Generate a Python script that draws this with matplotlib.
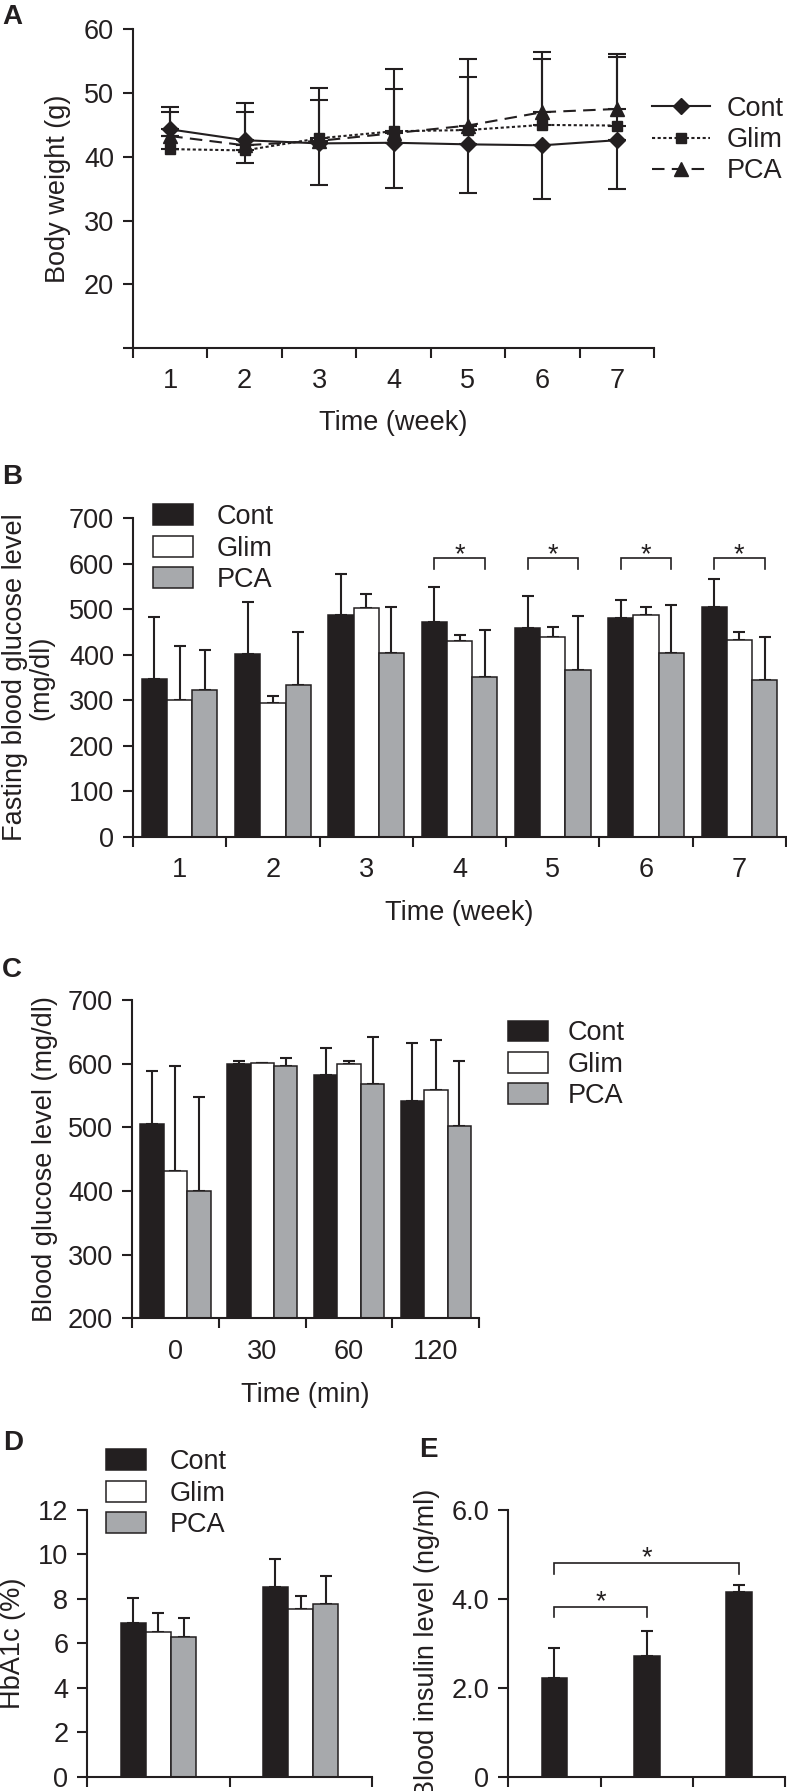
import numpy as np
import matplotlib
matplotlib.use("Agg")
import matplotlib.pyplot as plt
from matplotlib.patches import Patch
from matplotlib.lines import Line2D

plt.rcParams['font.family'] = ['Liberation Sans', 'DejaVu Sans']

# ---------------- data ----------------
groups = ['Cont', 'Glim', 'PCA']
weeks = ['1', '2', '3', '4', '5', '6', '7']
ogtt_times = ['0', '30', '60', '120']

# A: body weight (g)
bw_cont = [44.3, 42.6, 42.1, 42.2, 41.95, 41.8, 42.6]
bw_cont_lower = [43.3, 39.05, 35.5, 35.1, 34.25, 33.35, 34.9]
bw_glim = [41.2, 41.0, 42.9, 44.0, 44.2, 45.0, 44.9]
bw_glim_upper = [47.75, 48.4, 50.8, 50.6, 52.5, 55.3, 55.7]
bw_pca = [43.25, 41.8, 42.5, 43.7, 44.9, 47.0, 47.5]
bw_pca_upper = [47.06, 47.0, 48.85, 53.7, 55.3, 56.5, 56.1]

# B: fasting blood glucose (mg/dl)
fbg_cont = [346, 401, 487, 471, 459, 480, 504]
fbg_cont_err = [136, 114, 90, 79, 70, 40, 62]
fbg_glim = [300, 295, 502, 431, 438, 487, 432]
fbg_glim_err = [120, 14, 32, 12.5, 24, 17, 17]
fbg_pca = [322, 333, 404, 351, 366, 403, 344]
fbg_pca_err = [88, 116, 102, 104, 119, 106, 96]
fbg_sig_weeks = [4, 5, 6, 7]

# C: blood glucose (mg/dl) in OGTT
ogtt_cont = [505, 600, 582, 542]
ogtt_cont_err = [84, 4, 43, 91]
ogtt_glim = [432, 601, 600, 558]
ogtt_glim_err = [164, 0, 4, 79]
ogtt_pca = [400, 597, 568, 502]
ogtt_pca_err = [148, 12, 74, 102]

# D: HbA1c (%)
hba1c_cont = [6.93, 8.55]
hba1c_cont_err = [1.10, 1.23]
hba1c_glim = [6.50, 7.55]
hba1c_glim_err = [0.85, 0.58]
hba1c_pca = [6.30, 7.76]
hba1c_pca_err = [0.83, 1.29]

# E: blood insulin (ng/ml)
insulin = [2.21, 2.72, 4.16]
insulin_err = [0.69, 0.565, 0.15]

# ---------------- style ----------------
W, H = 787, 1791
FS = 19.5
FSPX = FS / 72 * 100
DARK = '#231f20'
GRAY = '#a7a9ac'
bar_colors = [DARK, 'white', GRAY]

fig = plt.figure(figsize=(W / 100, H / 100), dpi=100)
fig.patch.set_facecolor('white')


def px_axes(l, t, r, b):
    return fig.add_axes([l / W, 1 - b / H, (r - l) / W, (b - t) / H])


def style_axes(ax, ncat, labels):
    for s in ['top', 'right']:
        ax.spines[s].set_visible(False)
    for s in ['left', 'bottom']:
        ax.spines[s].set_linewidth(1.5)
        ax.spines[s].set_color(DARK)
    ax.set_xlim(0.5, ncat + 0.5)
    ax.set_xticks(np.arange(0.5, ncat + 0.51, 1.0))
    ax.set_xticklabels([])
    ax.set_xticks(np.arange(1, ncat + 1), minor=True)
    if labels is not None:
        ax.set_xticklabels(labels, minor=True)
    ax.tick_params(axis='both', which='major', length=7.2, width=1.5,
                   color=DARK, direction='out', labelsize=FS, pad=6.5,
                   labelcolor=DARK)
    ax.tick_params(axis='x', which='minor', length=0, labelsize=FS,
                   pad=14.6, labelcolor=DARK)


def set_labels(ax, ylab, yx, xlab=None, xy=None, linespacing=1.0):
    ax.set_ylabel(ylab, fontsize=FS, color=DARK, va='center', ha='center',
                  linespacing=linespacing)
    ax.yaxis.set_label_coords(yx, 0.5)
    if xlab is not None:
        ax.set_xlabel(xlab, fontsize=FS, color=DARK, va='center')
        ax.xaxis.set_label_coords(0.5, xy)


def bar_legend(x_px, yc_px, textx_px):
    handles = [Patch(facecolor=c, edgecolor=DARK, linewidth=1.1) for c in bar_colors]
    fig.legend(handles, groups, loc='center left',
               bbox_to_anchor=(x_px / W, 1 - yc_px / H),
               bbox_transform=fig.transFigure, frameon=False, borderpad=0,
               borderaxespad=0, handlelength=40 / FSPX, handleheight=22 / FSPX,
               handletextpad=(textx_px - x_px - 40) / FSPX, labelspacing=0.2,
               fontsize=FS, labelcolor=DARK)


def grouped_bars(ax, series, errs, width):
    n = len(series[0])
    x = np.arange(1, n + 1)
    for k, (vals, err, c) in enumerate(zip(series, errs, bar_colors)):
        pos = x + (k - 1) * width
        ax.bar(pos, vals, width=width, color=c, edgecolor=DARK, linewidth=1.1,
               zorder=2)
        ax.errorbar(pos, vals, yerr=[np.zeros(n), err], fmt='none', ecolor=DARK,
                    elinewidth=1.5, capsize=4.5, capthick=1.5, zorder=1.5)


def star(ax, x, y):
    ax.annotate('*', xy=(x, y), xytext=(0, -11), textcoords='offset points',
                ha='center', va='baseline', fontsize=FS, color=DARK)


def bracket(ax, x0, x1, ytop, ybot):
    ax.plot([x0, x0, x1, x1], [ybot, ytop, ytop, ybot], color=DARK, lw=1.2,
            solid_joinstyle='miter', clip_on=False)


# ---------------- A ----------------
axA = px_axes(133, 29.3, 654, 348)
style_axes(axA, 7, weeks)
x = np.arange(1, 8)
zeros = np.zeros(7)
cont = np.array(bw_cont)
glim = np.array(bw_glim)
pca = np.array(bw_pca)
ekw = dict(ecolor=DARK, elinewidth=1.5, capsize=6.5, capthick=1.5)
axA.errorbar(x, pca, yerr=[zeros, np.array(bw_pca_upper) - pca], color=DARK,
             marker='^', markersize=10, lw=1.5, dashes=(6, 3.5), zorder=3, **ekw)
axA.errorbar(x, glim, yerr=[zeros, np.array(bw_glim_upper) - glim], color=DARK,
             marker='s', markersize=7.5, lw=1.5, dashes=(1.5, 1.2), zorder=3, **ekw)
axA.errorbar(x, cont, yerr=[cont - np.array(bw_cont_lower), zeros], color=DARK,
             marker='D', markersize=8.5, lw=1.5, ls='-', zorder=4, **ekw)
axA.set_ylim(10, 60)
axA.set_yticks([10, 20, 30, 40, 50, 60])
axA.set_yticklabels(['', '20', '30', '40', '50', '60'])
set_labels(axA, 'Body weight (g)', (58 - 133) / 521, 'Time (week)',
           -(423 - 348) / 318.7)
lh = [Line2D([], [], color=DARK, marker='D', markersize=8.5, lw=1.5, ls='-'),
      Line2D([], [], color=DARK, marker='s', markersize=7.5, lw=1.5, dashes=(1.5, 1.2)),
      Line2D([], [], color=DARK, marker='^', markersize=10, lw=1.5, dashes=(6, 3.5))]
fig.legend(lh, groups, loc='center left', bbox_to_anchor=(652 / W, 1 - 140 / H),
           bbox_transform=fig.transFigure, frameon=False, borderpad=0,
           borderaxespad=0, handlelength=58 / FSPX, handletextpad=17 / FSPX,
           labelspacing=0.2, fontsize=FS, labelcolor=DARK)

# ---------------- B ----------------
axB = px_axes(133, 518.3, 786, 836.7)
style_axes(axB, 7, weeks)
grouped_bars(axB, [fbg_cont, fbg_glim, fbg_pca],
             [fbg_cont_err, fbg_glim_err, fbg_pca_err], 0.27)
axB.set_ylim(0, 700)
axB.set_yticks(np.arange(0, 701, 100))
set_labels(axB, 'Fasting blood glucose level\n(mg/dl)', (28.5 - 133) / 653,
           'Time (week)', -(913 - 836.7) / 318.4)
for w in fbg_sig_weeks:
    bracket(axB, w - 0.27, w + 0.27, 612, 588)
    star(axB, w, 637.7)
bar_legend(152.7, 548.5, 216.7)

# ---------------- C ----------------
axC = px_axes(132, 1000, 479.3, 1318.3)
style_axes(axC, 4, ogtt_times)
grouped_bars(axC, [ogtt_cont, ogtt_glim, ogtt_pca],
             [ogtt_cont_err, ogtt_glim_err, ogtt_pca_err], 0.27)
axC.set_ylim(200, 700)
axC.set_yticks(np.arange(200, 701, 100))
set_labels(axC, 'Blood glucose level (mg/dl)', (45 - 132) / 347.3,
           'Time (min)', -(1395 - 1318.3) / 318.3)
bar_legend(508.3, 1064.8, 567.7)

# ---------------- D ----------------
axD = px_axes(87.3, 1510, 371.7, 1776.7)
style_axes(axD, 2, None)
grouped_bars(axD, [hba1c_cont, hba1c_glim, hba1c_pca],
             [hba1c_cont_err, hba1c_glim_err, hba1c_pca_err], 0.177)
axD.set_ylim(0, 12)
axD.set_yticks(np.arange(0, 13, 2))
set_labels(axD, 'HbA1c (%)', (13 - 87.3) / 284.4)
bar_legend(106, 1493.7, 170)

# ---------------- E ----------------
axE = px_axes(508.3, 1510, 785, 1776.7)
style_axes(axE, 3, None)
xe = np.arange(1, 4)
axE.bar(xe, insulin, width=0.28, color=DARK, edgecolor=DARK, linewidth=1.1, zorder=2)
axE.errorbar(xe, insulin, yerr=[np.zeros(3), insulin_err], fmt='none', ecolor=DARK,
             elinewidth=1.5, capsize=4.5, capthick=1.5, zorder=1.5)
axE.set_ylim(0, 6)
axE.set_yticks([0, 2, 4, 6])
axE.set_yticklabels(['0', '2.0', '4.0', '6.0'])
set_labels(axE, 'Blood insulin level (ng/ml)', (427 - 508.3) / 276.7)
bracket(axE, 1, 3, 4.80, 4.56)
star(axE, 2, 5.1)
bracket(axE, 1, 2, 3.825, 3.585)
star(axE, 1.5, 4.11)

# panel letters
for letter, (lx, ly) in {'A': (12, 17), 'B': (12, 477), 'C': (12, 970),
                         'D': (13, 1443), 'E': (428, 1450)}.items():
    fig.text(lx / W, 1 - ly / H, letter, fontsize=20, fontweight='bold',
             ha='center', va='center', color=DARK)

fig.savefig('out.png', dpi=100, facecolor='white')
